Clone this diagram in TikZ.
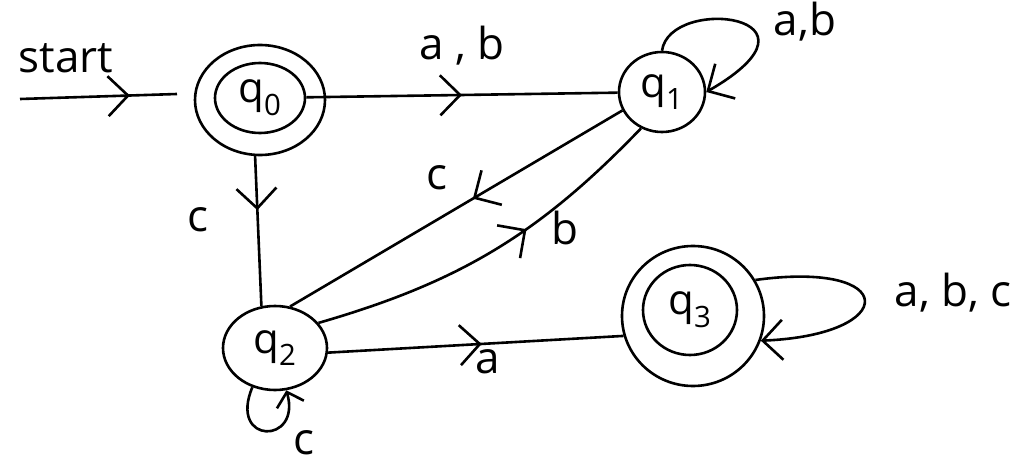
\documentclass[tikz,border=0pt]{standalone}
\usepackage{fontspec}
\setmainfont{Open Sans}
\usetikzlibrary{shapes.geometric,arrows.meta,decorations.markings}
\tikzset{
  st/.style={draw, ellipse, line width=2.6pt, inner sep=0pt, font=\fontsize{42}{46}\selectfont},
  ed/.style={line width=2.6pt},
  tipA/.tip={Straight Barb[length=20pt,width=40pt]},
  tipB/.tip={Straight Barb[length=13pt,width=28pt]},
  midtip/.style={postaction={decorate},decoration={markings,mark=at position #1 with {\arrow{tipA}}}},
  lbl/.style={font=\fontsize{44}{48}\selectfont, inner sep=0pt}
}
\begin{document}
\begin{tikzpicture}[x=1pt,y=-1pt]
\fill[white] (0,0) rectangle (1021,468);
\useasboundingbox (0,0) rectangle (1021,468);
% states
\node[st, minimum width=130pt, minimum height=110pt] (q0) at (260,100) {};
\node[st, minimum width=90pt, minimum height=70pt] (q0in) at (260,98) {q\textsubscript{0}};
\node[st, minimum width=86pt, minimum height=80pt] (q1) at (662,92) {q\textsubscript{1}};
\node[st, minimum width=104pt, minimum height=84pt] (q2) at (275,348) {q\textsubscript{2}};
\node[st, minimum width=142pt, minimum height=140pt] (q3) at (693,316) {};
\node[st, minimum width=94pt, minimum height=90pt] (q3in) at (690,310) {q\textsubscript{3}};
% start
\coordinate (s0) at (20,99);
\coordinate (s1) at (177,94);
\draw[ed, midtip=0.7] (s0) -- (s1);
\node[lbl] (lstart) at (66,58) {start};
% transitions
\draw[ed, midtip=0.5] (q0in) -- (q1);
\node[lbl] (lab) at (462,46) {a , b};
\draw[ed, -tipA] (q1.north) .. controls (670,-5) and (840,15) .. (q1.east);
\node[lbl] (lab1) at (805,22) {a,b};
\draw[ed, midtip=0.45] (q1.205) -- (q2.70);
\node[lbl] (lc1) at (437,178) {c};
\draw[ed, midtip=0.6] (q2.30) to[bend right=15] (q1.240);
\node[lbl] (lb1) at (565,228) {b};
\draw[ed, midtip=0.36] (q0.265) -- (q2.108);
\node[lbl] (lc0) at (198,220) {c};
\draw[ed, -tipB] (q2.240) .. controls (228,445) and (302,445) .. (q2.285);
\node[lbl] (lc2) at (304,443) {c};
\draw[ed, midtip=0.52] (q2.355) -- (q3.196);
\node[lbl] (la2) at (488,362) {a};
\draw[ed, -tipA] (q3.30) .. controls (900,260) and (900,335) .. (q3.340);
\node[lbl] (labc) at (953,293) {a, b, c};
\end{tikzpicture}
\end{document}
